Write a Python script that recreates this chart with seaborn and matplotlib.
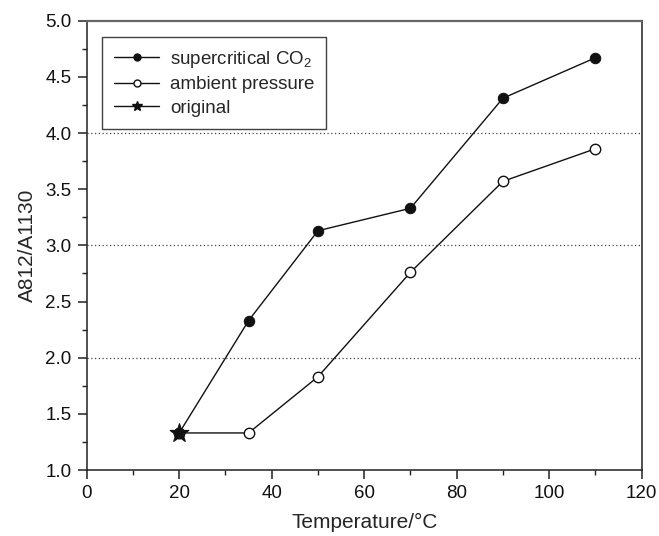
import matplotlib
matplotlib.use("Agg")
import matplotlib.pyplot as plt
import seaborn as sns
import pandas as pd
from matplotlib.lines import Line2D
from matplotlib.ticker import MultipleLocator, FormatStrFormatter

temps_sc = [20, 35, 50, 70, 90, 110]
ratio_sc = [1.33, 2.33, 3.13, 3.33, 4.31, 4.67]
temps_amb = [20, 35, 50, 70, 90, 110]
ratio_amb = [1.33, 1.33, 1.83, 2.76, 3.57, 3.86]
temps_orig = [20]
ratio_orig = [1.33]
labels = ["supercritical CO$_2$", "ambient pressure", "original"]

sns.set_style("ticks")
plt.rcParams['font.family'] = ['Liberation Sans', 'DejaVu Sans']
plt.rcParams['mathtext.fontset'] = 'custom'
plt.rcParams['mathtext.rm'] = 'Liberation Sans'
plt.rcParams['mathtext.it'] = 'Liberation Sans'

fig = plt.figure(figsize=(6.59, 5.36), dpi=100)
ax = fig.add_axes([0.1316, 0.1231, 0.8421, 0.8383])

df_sc = pd.DataFrame({"T": temps_sc, "R": ratio_sc})
df_amb = pd.DataFrame({"T": temps_amb, "R": ratio_amb})
df_or = pd.DataFrame({"T": temps_orig, "R": ratio_orig})

for yv in [2.0, 3.0, 4.0]:
    ax.axhline(yv, color="#444444", linestyle=(0, (1, 2)), linewidth=0.9, zorder=1)

sns.lineplot(data=df_sc, x="T", y="R", ax=ax, color="#111111", linewidth=1.0,
             marker="o", markersize=7.5, markerfacecolor="#111111",
             markeredgecolor="#111111", zorder=3)
sns.lineplot(data=df_amb, x="T", y="R", ax=ax, color="#111111", linewidth=1.0,
             marker="o", markersize=7.5, markerfacecolor="white",
             markeredgecolor="#111111", markeredgewidth=1.0, zorder=3)
sns.scatterplot(data=df_or, x="T", y="R", ax=ax, color="#111111",
                marker="*", s=200, edgecolor="#111111", linewidth=0.8, zorder=6)

ax.set_xlim(0, 120)
ax.set_ylim(1.0, 5.0)
ax.xaxis.set_major_locator(MultipleLocator(20))
ax.xaxis.set_minor_locator(MultipleLocator(10))
ax.yaxis.set_major_locator(MultipleLocator(0.5))
ax.yaxis.set_minor_locator(MultipleLocator(0.25))
ax.yaxis.set_major_formatter(FormatStrFormatter("%.1f"))
ax.tick_params(axis="both", which="major", direction="out", length=6.5, width=1.1,
               labelsize=13.5, color="#222222", labelcolor="#111111", pad=4.5)
ax.tick_params(axis="both", which="minor", direction="out", length=3.5, width=1.0,
               color="#222222")
for s in ax.spines.values():
    s.set_linewidth(1.1)
    s.set_color("#222222")
ax.spines["top"].set_color("#666666")
ax.spines["top"].set_linewidth(1.6)

ax.set_xlabel("Temperature/°C", fontsize=15, labelpad=8)
ax.set_ylabel("A812/A1130", fontsize=15, labelpad=6)

handles = [
    Line2D([], [], color="#111111", lw=1.0, marker="o", markersize=5,
           markerfacecolor="#111111", markeredgecolor="#111111"),
    Line2D([], [], color="#111111", lw=1.0, marker="o", markersize=5,
           markerfacecolor="white", markeredgecolor="#111111"),
    Line2D([], [], color="#111111", lw=1.0, marker="*", markersize=7,
           markerfacecolor="#111111", markeredgecolor="#111111"),
]
leg = ax.legend(handles, labels, loc="upper left", bbox_to_anchor=(0.028, 0.964),
                fontsize=13.5, frameon=True, fancybox=False, edgecolor="#111111",
                handlelength=2.4, handletextpad=0.55, labelspacing=0.33,
                borderpad=0.65, borderaxespad=0)
leg.get_frame().set_linewidth(1.0)

fig.savefig("out.png", dpi=100)
